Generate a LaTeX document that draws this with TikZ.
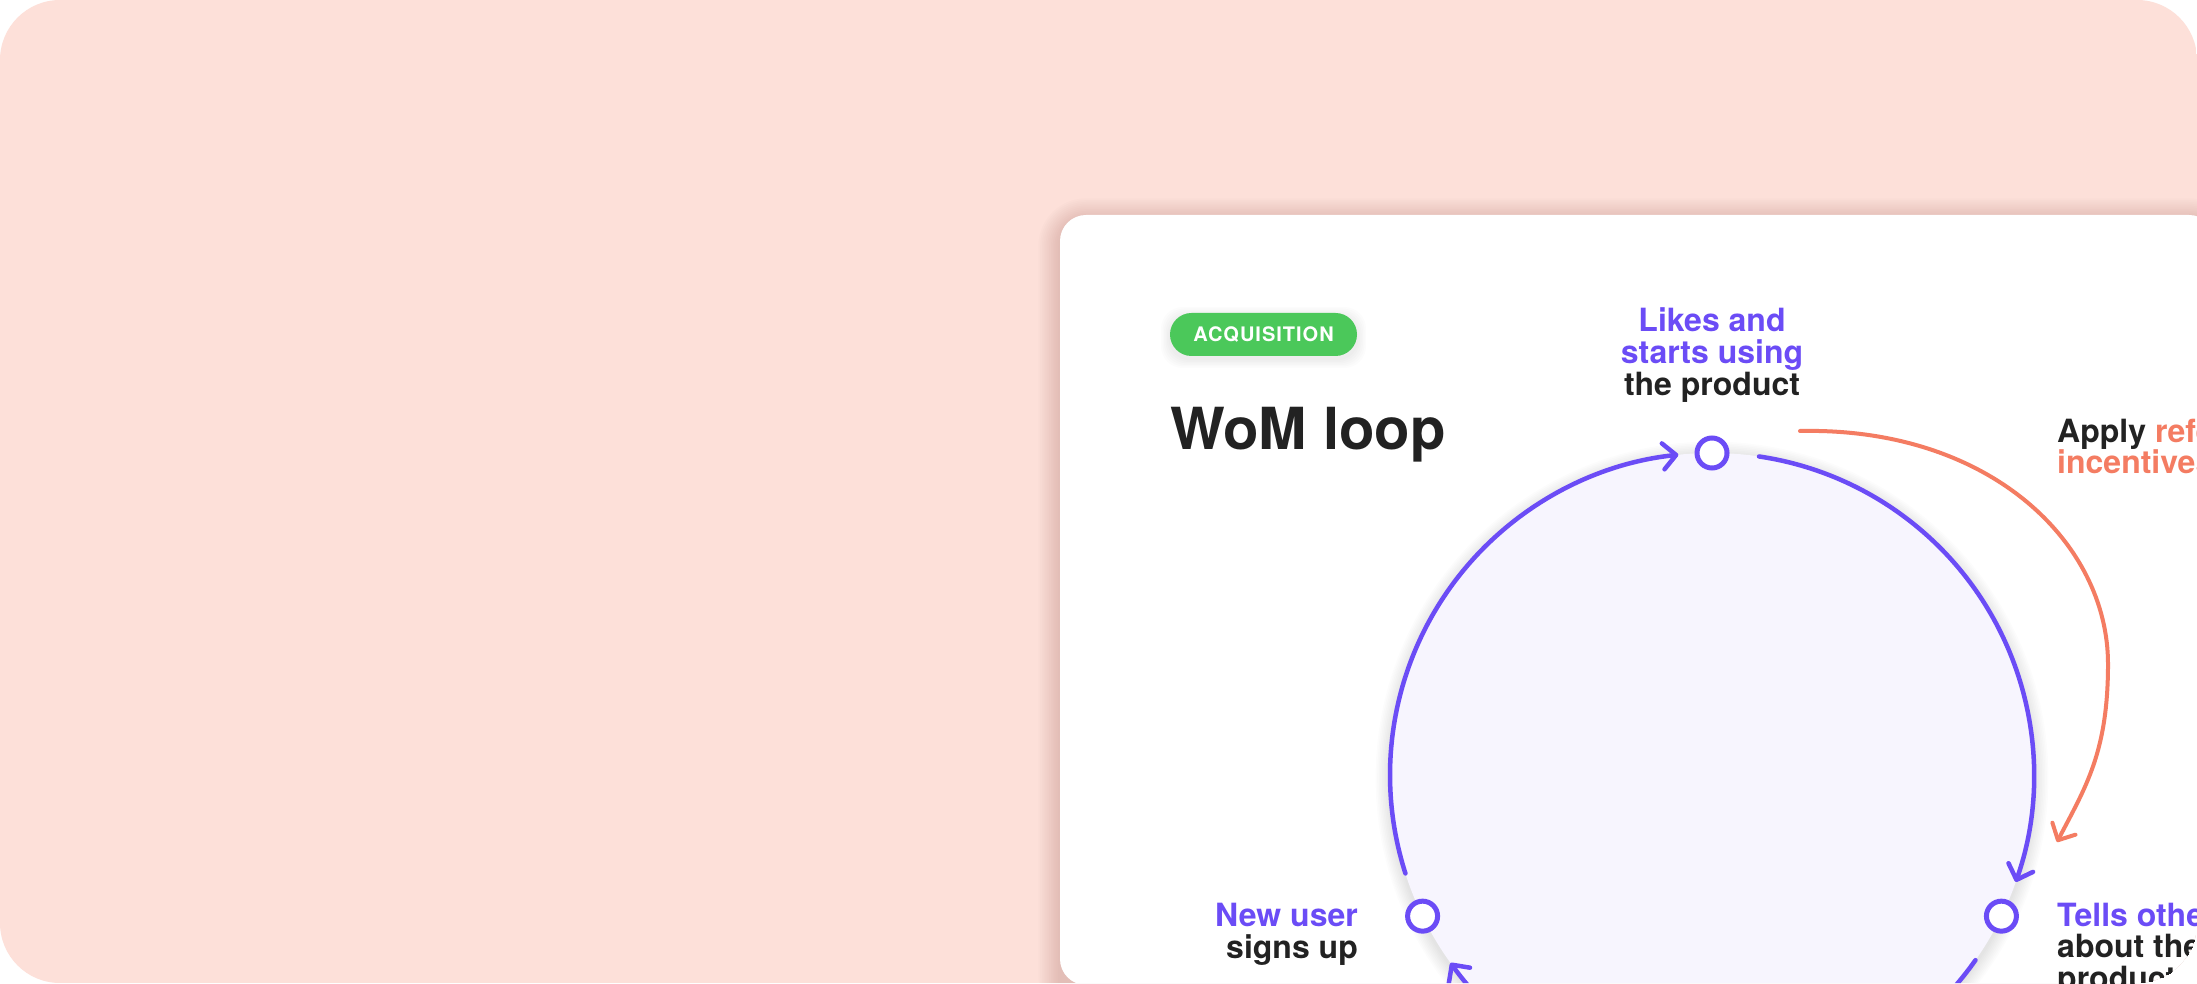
\documentclass[tikz,border=0pt]{standalone}
\usepackage{fontspec}
\setmainfont{TeX Gyre Heros}
\usetikzlibrary{arrows.meta}
\definecolor{bgpink}{HTML}{FDE0D9}
\definecolor{vio}{HTML}{6B4CF6}
\definecolor{ink}{HTML}{222222}
\definecolor{coral}{HTML}{F47C62}
\definecolor{grn}{HTML}{4BC85A}
\definecolor{lav}{HTML}{F7F5FE}
\definecolor{shad}{HTML}{B9847C}
\begin{document}
\begin{tikzpicture}[x=1pt,y=1pt,
  lbl/.style={inner sep=0pt, font=\fontsize{32}{32}\selectfont\bfseries},
  loopline/.style={draw=vio, line width=4.5pt, line cap=round},
  tipv/.style={-{Straight Barb[length=13pt,width=26pt,round]}},
  coralline/.style={draw=coral, line width=4pt, line cap=round},
  loopnode/.style={circle, draw=vio, fill=white, line width=5pt, minimum size=30pt, inner sep=0pt}
]
\useasboundingbox (0,0) rectangle (2197,983);
\fill[white] (0,0) rectangle (2197,983);
\begin{scope}
\clip[rounded corners=60pt] (0,0) rectangle (2197,983);
\fill[bgpink] (0,0) rectangle (2197,983);
% card shadow
\foreach \i in {1,...,12}{
  \pgfmathsetmacro{\rc}{26+1.8*\i}
  \pgfmathsetmacro{\ex}{1.8*\i}
  \fill[shad, opacity=0.032, rounded corners=\rc pt] (1060-\ex, 768+\ex-5) rectangle (2215+\ex, -40);
}
% card
\fill[white, rounded corners=26pt] (1060,768) rectangle (2215,-2);
% pill
\foreach \i in {1,...,6}{
  \pgfmathsetmacro{\ex}{1.5*\i}
  \fill[black, opacity=0.012, rounded corners=21.5pt] (1170-\ex, 670+\ex-3) rectangle (1357+\ex, 627-\ex-3);
}
\node[fill=grn, rounded corners=21.5pt, minimum width=187pt, minimum height=43pt, inner sep=0pt,
      text=white, font=\fontsize{20}{20}\selectfont\bfseries\addfontfeatures{LetterSpace=5}] (tag) at (1263.5,648.5) {ACQUISITION};
% title
\node[inner sep=0pt, anchor=base west, text=ink, font=\fontsize{58}{58}\selectfont\bfseries] (title) at (1170,533) {WoM loop};
% loop
\coordinate (C) at (1712,208);
\foreach \i in {1,...,9}{
  \pgfmathsetmacro{\rr}{322+1.6*\i}
  \fill[black, opacity=0.012] ([yshift=-3pt]C) circle[radius=\rr pt];
}
\fill[lav] (C) circle[radius=322pt];
\draw[loopline, tipv] ([shift={(197.8:322)}]C) arc[start angle=197.8, end angle=96, radius=322];
\draw[loopline, tipv] ([shift={(81.6:322)}]C) arc[start angle=81.6, end angle=-19.4, radius=322];
\draw[loopline] ([shift={(-35.1:322)}]C) arc[start angle=-35.1, end angle=-75, radius=322];
\draw[loopline, tipv] ([shift={(255:322)}]C) arc[start angle=255, end angle=215.7, radius=322];
\node[loopnode] (ntop) at ([shift={(90:322)}]C) {};
\node[loopnode] (nleft) at ([shift={(206:322)}]C) {};
\node[loopnode] (nright) at ([shift={(-26:322)}]C) {};
% coral arrow
\coordinate (cs) at (1800,552);
\coordinate (ce) at (2057,141);
\draw[coralline, -{Straight Barb[length=13pt,width=26pt,round]}] (cs) .. controls (1990,556) and (2108,440) .. (2108,319) .. controls (2108,230) and (2085,195) .. (ce);
% labels
\node[lbl, anchor=base, text=vio] (t1) at (1712,651) {Likes and};
\node[lbl, anchor=base, text=vio] (t2) at (1712,619) {starts using};
\node[lbl, anchor=base, text=ink] (t3) at (1712,587) {the product};
\node[lbl, anchor=base east, text=vio] (l1) at (1358,57) {New user};
\node[lbl, anchor=base east, text=ink] (l2) at (1358,25) {signs up};
\node[lbl, anchor=base west, text=vio] (r1) at (2057,57) {Tells others};
\node[lbl, anchor=base west, text=ink] (r2) at (2057,26) {about the};
\node[lbl, anchor=base west, text=ink] (r3) at (2057,-6) {product};
\node[lbl, anchor=base west, text=ink] (a1) at (2057,540) {Apply \textcolor{coral}{referral}};
\node[lbl, anchor=base west, text=coral] (a2) at (2057,509) {incentives};
\end{scope}
\end{tikzpicture}
\end{document}
